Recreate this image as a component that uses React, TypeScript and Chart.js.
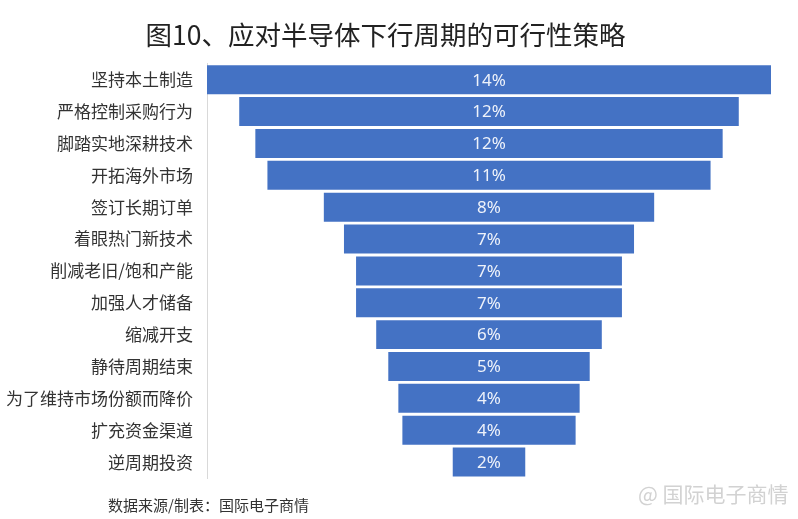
import React, { useEffect, useRef } from 'react';
import { Chart, registerables } from 'chart.js';

Chart.register(...registerables);

const CATEGORIES = [
  '坚持本土制造', '严格控制采购行为', '脚踏实地深耕技术', '开拓海外市场',
  '签订长期订单', '着眼热门新技术', '削减老旧/饱和产能', '加强人才储备',
  '缩减开支', '静待周期结束', '为了维持市场份额而降价', '扩充资金渠道', '逆周期投资',
];
// shares in percent
const SHARES = [14.0, 12.4, 11.6, 11.0, 8.2, 7.2, 6.6, 6.6, 5.6, 5.0, 4.5, 4.3, 1.8];
const SHARE_LABELS = ['14%', '12%', '12%', '11%', '8%', '7%', '7%', '7%', '6%', '5%', '4%', '4%', '2%'];

const CJK = '"Noto Sans CJK SC", "Noto Sans", sans-serif';

// writes the share on each bar, like the Excel data labels
const barLabels = {
  id: 'barLabels',
  afterDatasetsDraw(chart: Chart) {
    const ctx = chart.ctx;
    const meta = chart.getDatasetMeta(0);
    ctx.save();
    ctx.fillStyle = '#eef2fa';
    ctx.font = '17px "Noto Sans", sans-serif';
    ctx.textAlign = 'center';
    ctx.textBaseline = 'middle';
    meta.data.forEach((bar: any, i: number) => {
      const { x, base, y } = bar.getProps(['x', 'base', 'y'], true);
      ctx.fillText(SHARE_LABELS[i], (x + base) / 2, y + 1);
    });
    ctx.restore();
  },
};

const FunnelChart: React.FC = () => {
  const chartRef = useRef<HTMLCanvasElement>(null);
  const chartInstance = useRef<Chart | null>(null);

  useEffect(() => {
    if (chartInstance.current) {
      chartInstance.current.destroy();
    }
    if (chartRef.current) {
      const ctx = chartRef.current.getContext('2d');
      if (ctx) {
        const half = SHARES[0] / 2;
        chartInstance.current = new Chart(ctx, {
          type: 'bar',
          data: {
            labels: CATEGORIES,
            datasets: [{
              data: SHARES.map(v => [-v / 2, v / 2]) as any,
              backgroundColor: '#4472C4',
              borderWidth: 0,
              barPercentage: 0.91,
              categoryPercentage: 1,
            }],
          },
          options: {
            indexAxis: 'y',
            animation: false,
            responsive: true,
            maintainAspectRatio: false,
            layout: { padding: { left: 0, right: 27, top: 0, bottom: 41 } },
            scales: {
              x: { display: false, min: -half, max: half },
              y: {
                grid: { display: false, drawTicks: false },
                border: { display: true, color: '#d9d9d9', width: 1 },
                ticks: { color: '#333333', padding: 14, font: { family: CJK, size: 17 } },
                afterFit: (scale: any) => { scale.width = 207; },
              },
            },
            plugins: {
              legend: { display: false },
              tooltip: { enabled: false },
              title: {
                display: true,
                text: '图10、应对半导体下行周期的可行性策略',
                color: '#222222',
                font: { family: CJK, size: 26.5, weight: 'normal', lineHeight: 1.2 },
                padding: { top: 19, bottom: 13 },
              },
            },
          },
          plugins: [barLabels],
        });
      }
    }
    return () => {
      if (chartInstance.current) {
        chartInstance.current.destroy();
        chartInstance.current = null;
      }
    };
  }, []);

  return (
    <div style={{ position: 'fixed', left: 0, top: 0, width: '798px', height: '519px', background: '#ffffff' }}>
      <canvas ref={chartRef}></canvas>
      <div style={{ position: 'absolute', left: '108px', top: '495px', fontFamily: CJK, fontSize: '15px', color: '#333333', lineHeight: '20px' }}>
        数据来源/制表：国际电子商情
      </div>
      <div style={{ position: 'absolute', left: '638px', top: '480px', fontFamily: CJK, fontSize: '21px', color: '#d2d2d2', lineHeight: '26px', textShadow: '0 0 2px #ffffff' }}>
        @ 国际电子商情
      </div>
    </div>
  );
};

export default function App() {
  return <FunnelChart />;
}
